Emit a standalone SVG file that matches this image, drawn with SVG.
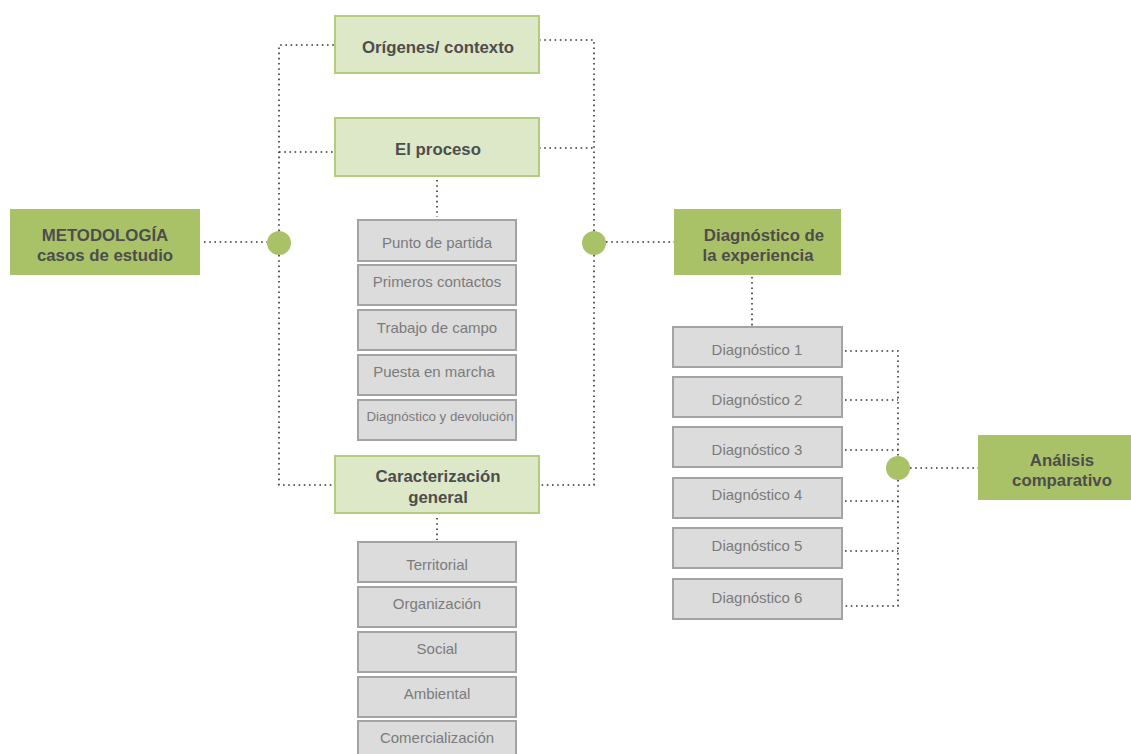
<svg xmlns="http://www.w3.org/2000/svg" width="1131" height="754" viewBox="0 0 1131 754">
  <style>
    .dot { fill: none; stroke: #333333; stroke-width: 1.6; stroke-dasharray: 1.6 3.6; }
    .main { fill: #aac267; }
    .sub { fill: #dde8c9; stroke: #b4cd7c; stroke-width: 2; }
    .item { fill: #dcdcdc; stroke: #a3a3a3; stroke-width: 2; }
    .hub { fill: #aac267; }
    .bold { font-family: "Liberation Sans", Arial, sans-serif; font-weight: bold; font-size: 16.8px; fill: #4d4d4d; text-anchor: middle; }
    .lbl { font-family: "Liberation Sans", Arial, sans-serif; font-size: 15px; fill: #7b7b7b; text-anchor: middle; }
  </style>
  <rect width="1131" height="754" fill="#ffffff"/>

  <!-- connectors -->
  <g id="connectors">
    <path class="dot" d="M204 242 H267"/>
    <path class="dot" d="M279 231 V45 H335"/>
    <path class="dot" d="M279 152 H335"/>
    <path class="dot" d="M279 255 V485 H335"/>
    <path class="dot" d="M539 40 H594 V231"/>
    <path class="dot" d="M539 148 H594"/>
    <path class="dot" d="M594 255 V485 H539"/>
    <path class="dot" d="M606 242 H674"/>
    <path class="dot" d="M437 180 V217"/>
    <path class="dot" d="M437 518 V540"/>
    <path class="dot" d="M752 277 V327"/>
    <path class="dot" d="M845 351 H898 V456"/>
    <path class="dot" d="M845 400 H898"/>
    <path class="dot" d="M845 450 H898"/>
    <path class="dot" d="M898 480 V606 H845"/>
    <path class="dot" d="M845 501 H898"/>
    <path class="dot" d="M845 551 H898"/>
    <path class="dot" d="M910 468 H978"/>
  </g>

  <!-- hubs -->
  <g id="hub-left"><circle class="hub" cx="279" cy="243" r="12"/></g>
  <g id="hub-right"><circle class="hub" cx="594" cy="243" r="12"/></g>
  <g id="hub-diag"><circle class="hub" cx="898" cy="468" r="12"/></g>

  <!-- main nodes -->
  <g id="metodologia">
    <rect class="main" x="10" y="209" width="190" height="66"/>
    <text class="bold" x="105" y="241">METODOLOGÍA</text>
    <text class="bold" x="105" y="261">casos de estudio</text>
  </g>
  <g id="diagnostico-experiencia">
    <rect class="main" x="674" y="209" width="167" height="66"/>
    <text class="bold" x="764" y="241">Diagnóstico de</text>
    <text class="bold" x="758" y="261">la experiencia</text>
  </g>
  <g id="analisis">
    <rect class="main" x="978" y="435" width="153" height="65"/>
    <text class="bold" x="1062" y="466">Análisis</text>
    <text class="bold" x="1062" y="486">comparativo</text>
  </g>

  <!-- section nodes -->
  <g id="origenes">
    <rect class="sub" x="335" y="16" width="204" height="57"/>
    <text class="bold" x="438" y="53">Orígenes/ contexto</text>
  </g>
  <g id="proceso">
    <rect class="sub" x="335" y="118" width="204" height="58"/>
    <text class="bold" x="438" y="155">El proceso</text>
  </g>
  <g id="caracterizacion">
    <rect class="sub" x="335" y="456" width="204" height="57"/>
    <text class="bold" x="438" y="482">Caracterización</text>
    <text class="bold" x="438" y="503">general</text>
  </g>

  <!-- process steps -->
  <g id="punto-partida">
    <rect class="item" x="358" y="220" width="158" height="41"/>
    <text class="lbl" x="437" y="248">Punto de partida</text>
  </g>
  <g id="primeros-contactos">
    <rect class="item" x="358" y="265" width="158" height="40"/>
    <text class="lbl" x="437" y="287">Primeros contactos</text>
  </g>
  <g id="trabajo-campo">
    <rect class="item" x="358" y="310" width="158" height="40"/>
    <text class="lbl" x="437" y="333">Trabajo de campo</text>
  </g>
  <g id="puesta-marcha">
    <rect class="item" x="358" y="355" width="158" height="40"/>
    <text class="lbl" x="434" y="377">Puesta en marcha</text>
  </g>
  <g id="diagnostico-devolucion">
    <rect class="item" x="358" y="400" width="158" height="40"/>
    <text class="lbl" x="440" y="421" style="font-size:13.3px">Diagnóstico y devolución</text>
  </g>

  <!-- characterisation items -->
  <g id="territorial">
    <rect class="item" x="358" y="542" width="158" height="40"/>
    <text class="lbl" x="437" y="570">Territorial</text>
  </g>
  <g id="organizacion">
    <rect class="item" x="358" y="587" width="158" height="40"/>
    <text class="lbl" x="437" y="609">Organización</text>
  </g>
  <g id="social">
    <rect class="item" x="358" y="632" width="158" height="40"/>
    <text class="lbl" x="437" y="654">Social</text>
  </g>
  <g id="ambiental">
    <rect class="item" x="358" y="677" width="158" height="40"/>
    <text class="lbl" x="437" y="699">Ambiental</text>
  </g>
  <g id="comercializacion">
    <rect class="item" x="358" y="721" width="158" height="40"/>
    <text class="lbl" x="437" y="743">Comercialización</text>
  </g>

  <!-- diagnostics -->
  <g id="diag-1">
    <rect class="item" x="673" y="327" width="169" height="40"/>
    <text class="lbl" x="757" y="355">Diagnóstico 1</text>
  </g>
  <g id="diag-2">
    <rect class="item" x="673" y="377" width="169" height="40"/>
    <text class="lbl" x="757" y="405">Diagnóstico 2</text>
  </g>
  <g id="diag-3">
    <rect class="item" x="673" y="427" width="169" height="40"/>
    <text class="lbl" x="757" y="455">Diagnóstico 3</text>
  </g>
  <g id="diag-4">
    <rect class="item" x="673" y="478" width="169" height="40"/>
    <text class="lbl" x="757" y="500">Diagnóstico 4</text>
  </g>
  <g id="diag-5">
    <rect class="item" x="673" y="528" width="169" height="40"/>
    <text class="lbl" x="757" y="551">Diagnóstico 5</text>
  </g>
  <g id="diag-6">
    <rect class="item" x="673" y="579" width="169" height="40"/>
    <text class="lbl" x="757" y="603">Diagnóstico 6</text>
  </g>
</svg>
